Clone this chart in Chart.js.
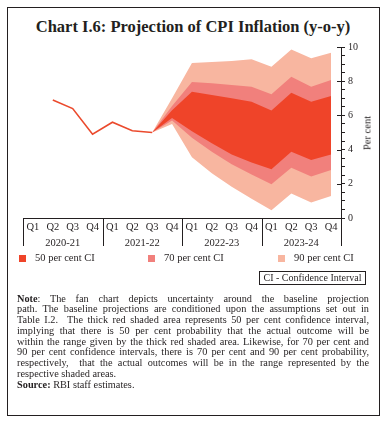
<!DOCTYPE html>
<html>
<head>
<meta charset="utf-8">
<script src="https://cdn.jsdelivr.net/npm/chart.js@4.4.0/dist/chart.umd.min.js"></script>
<style>
  body { margin: 0; background: #fff; color: #231f20; font-family: "Liberation Serif", serif; }
  #frame { position: absolute; left: 7px; top: 7px; width: 373px; height: 409px; border: 1.5px solid #231f20; box-sizing: border-box; }
  #title { position: absolute; left: 0; top: 16px; width: 386px; text-align: center; font-weight: bold; font-size: 16.5px; line-height: 21px; }
  #chartBox { position: absolute; left: 0; top: 35px; width: 386px; height: 220px; }
  #perCent { position: absolute; left: 367px; top: 133px; font-size: 10.5px; white-space: nowrap; transform: translate(-50%, -50%) rotate(-90deg); }
  .legItem { position: absolute; top: 252px; font-size: 10.5px; line-height: 12px; white-space: nowrap; }
  .legItem span.box { position: absolute; left: 0; top: 3px; width: 7px; height: 7px; }
  .legItem span.txt { position: absolute; white-space: nowrap; }
  #ciBox { position: absolute; left: 259px; top: 271px; width: 107px; height: 14px; border: 1px solid #231f20; box-sizing: border-box; font-size: 10px; line-height: 12px; text-align: center; }
  #note { position: absolute; left: 17px; top: 293.5px; width: 352px; font-size: 10.3px; line-height: 10.8px; }
  #note div { white-space: nowrap; text-align: justify; text-align-last: justify; height: 10.8px; }
  #note div.last { text-align-last: left; }
</style>
</head>
<body>
<div id="frame"></div>
<div id="title">Chart I.6: Projection of CPI Inflation (y-o-y)</div>
<div id="chartBox"><canvas id="c"></canvas></div>
<div id="perCent">Per cent</div>
<div id="legend"></div>
<div id="ciBox">CI - Confidence Interval</div>
<div id="note">
  <div><b>Note</b>: The fan chart depicts uncertainty around the baseline projection</div>
  <div>path. The baseline projections are conditioned upon the assumptions set out in</div>
  <div>Table I.2. &nbsp;The thick red shaded area represents 50 per cent confidence interval,</div>
  <div>implying that there is 50 per cent probability that the actual outcome will be</div>
  <div>within the range given by the thick red shaded area. Likewise, for 70 per cent and</div>
  <div>90 per cent confidence intervals, there is 70 per cent and 90 per cent probability,</div>
  <div>respectively, &nbsp;that the actual outcomes will be in the range represented by the</div>
  <div class="last">respective shaded areas.</div>
  <div class="last"><b>Source:</b> RBI staff estimates.</div>
</div>
<script>
// --- data ---
const quarterLabels = ["Q1","Q2","Q3","Q4","Q1","Q2","Q3","Q4","Q1","Q2","Q3","Q4","Q1","Q2","Q3","Q4"];
const yearLabels = ["2020-21", "2021-22", "2022-23", "2023-24"];

// actual CPI inflation (y-o-y, per cent)
const actual = [null, 6.9, 6.4, 4.9, 5.6, 5.1, 5.0, null, null, null, null, null, null, null, null, null];

// fan bands, from Q3:2021-22 onwards
const upper90 = [null, null, null, null, null, null, 5.0, 7.0, 9.07, 9.12, 9.18, 9.28, 8.85, 9.86, 9.34, 9.67];
const lower90 = [null, null, null, null, null, null, 5.0, 5.5, 3.55, 2.61, 1.83, 1.12, 0.45, 1.44, 0.9, 1.29];
const upper70 = [null, null, null, null, null, null, 5.0, 6.55, 7.96, 7.88, 7.78, 7.68, 7.23, 8.26, 7.68, 8.07];
const lower70 = [null, null, null, null, null, null, 5.0, 5.7, 4.7, 3.88, 3.14, 2.55, 1.98, 2.94, 2.42, 2.81];
const upper50 = [null, null, null, null, null, null, 5.0, 6.3, 7.38, 7.2, 7.0, 6.8, 6.28, 7.33, 6.8, 7.13];
const lower50 = [null, null, null, null, null, null, 5.0, 5.85, 5.07, 4.37, 3.72, 3.25, 2.85, 3.88, 3.39, 3.72];

const legendLabels = ["50 per cent CI", "70 per cent CI", "90 per cent CI"];

// colours
const C50 = "#ef4429";
const C70 = "#f1807c";
const C90 = "#f8b6a0";
const CLINE = "#eb4a2d";
const INK = "#231f20";
const FONT = "'Liberation Serif', serif";

// --- legend (HTML) ---
const legendColors = [C50, C70, C90];
const legendLeft = [19, 148, 278];
const legendEl = document.getElementById("legend");
legendLabels.forEach((txt, i) => {
  const item = document.createElement("div");
  item.className = "legItem";
  item.style.left = legendLeft[i] + "px";
  item.innerHTML = `<span class="box" style="background:${legendColors[i]}"></span><span class="txt" style="left:16px">${txt}</span>`;
  legendEl.appendChild(item);
});

// band dataset helper
function band(data, color, target, order) {
  return {
    data: data,
    backgroundColor: color,
    borderWidth: 0,
    pointRadius: 0,
    fill: target === null ? false : { target: target },
    order: order,
    tension: 0
  };
}

// y axis major ticks cross the axis, year separators under the x axis
const axisDecor = {
  id: "axisDecor",
  afterDraw(chart) {
    const ctx = chart.ctx;
    const y = chart.scales.y;
    const x = chart.scales.x;
    const x2 = chart.scales.x2;
    ctx.save();
    ctx.strokeStyle = INK;
    ctx.lineWidth = 1;
    for (let v = 0; v <= 10; v += 2) {
      const py = Math.round(y.getPixelForValue(v)) + 0.5;
      ctx.beginPath();
      ctx.moveTo(y.left - 4, py);
      ctx.lineTo(y.left, py);
      ctx.stroke();
    }
    const step = x.width / quarterLabels.length;
    for (let k = 0; k <= quarterLabels.length; k += 4) {
      const px = Math.round(x.left + k * step) + 0.5;
      ctx.beginPath();
      ctx.moveTo(px, x.top);
      ctx.lineTo(px, x2.bottom - 1);
      ctx.stroke();
    }
    ctx.restore();
  }
};

const chart = new Chart(document.getElementById("c"), {
  type: "line",
  data: {
    labels: quarterLabels,
    datasets: [
      band(upper90, C90, 1, 3),
      band(lower90, C90, null, 3),
      band(upper70, C70, 3, 2),
      band(lower70, C70, null, 2),
      band(upper50, C50, 5, 1),
      band(lower50, C50, null, 1),
      {
        data: actual,
        borderColor: CLINE,
        borderWidth: 1.6,
        pointRadius: 0,
        fill: false,
        tension: 0,
        order: 0
      }
    ]
  },
  options: {
    responsive: true,
    maintainAspectRatio: false,
    animation: false,
    layout: { padding: { left: 23, right: 0, top: 12, bottom: 8 } },
    plugins: {
      legend: { display: false },
      tooltip: { enabled: false },
      title: { display: false }
    },
    scales: {
      x: {
        type: "category",
        position: "bottom",
        offset: true,
        grid: { display: false, drawTicks: false },
        border: { display: true, color: INK, width: 1 },
        ticks: { color: INK, font: { family: FONT, size: 10.5 }, padding: 3, maxRotation: 0, autoSkip: false },
        afterFit(scale) { scale.height = 14; }
      },
      x2: {
        type: "category",
        axis: "x",
        position: "bottom",
        labels: yearLabels,
        offset: true,
        grid: { display: false, drawTicks: false },
        border: { display: false },
        ticks: { color: INK, font: { family: FONT, size: 10.5 }, padding: 5, maxRotation: 0, autoSkip: false },
        afterFit(scale) { scale.height = 15; }
      },
      y: {
        position: "right",
        min: 0,
        max: 10,
        grid: { drawOnChartArea: false, tickLength: 4, color: INK, lineWidth: 1 },
        border: { display: true, color: INK, width: 1 },
        ticks: {
          stepSize: 0.5,
          autoSkip: false,
          padding: 3,
          color: INK,
          font: { family: FONT, size: 10 },
          callback: v => (v % 2 === 0 ? v : "")
        },
        afterFit(scale) { scale.width = 45; }
      }
    }
  },
  plugins: [axisDecor]
});
</script>
</body>
</html>
